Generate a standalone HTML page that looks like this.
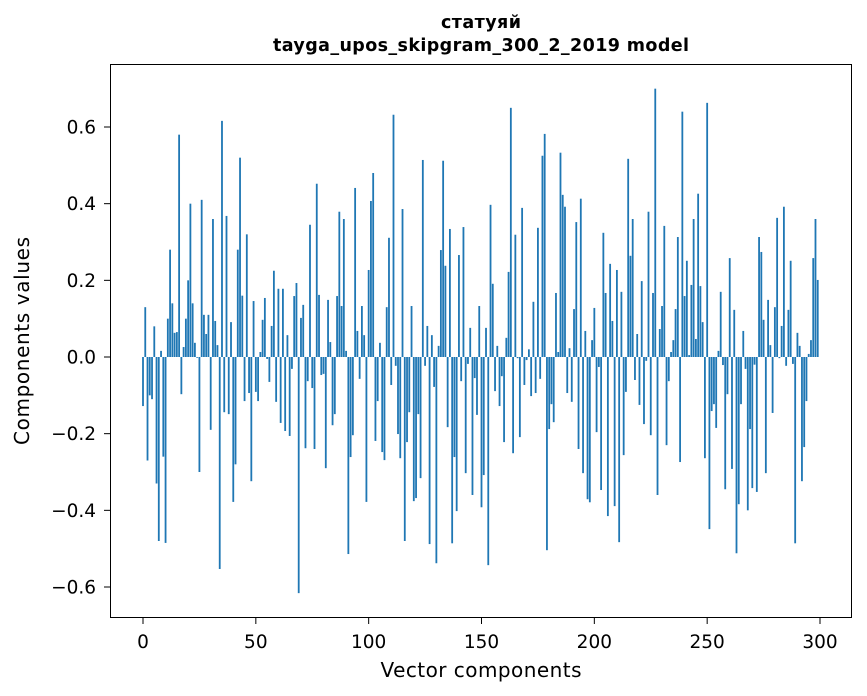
<!DOCTYPE html>
<html><head><meta charset="utf-8"><style>
body{margin:0;background:#fff;}
svg{display:block;font-family:"DejaVu Sans","Liberation Sans",sans-serif;}
</style></head><body>
<svg id="chart" width="867" height="696" viewBox="0 0 867 696" xmlns="http://www.w3.org/2000/svg">
<rect x="0" y="0" width="867" height="696" fill="#fff"/>
<text x="481" y="28" text-anchor="middle" font-size="17.5" font-weight="bold" textLength="80">статуяй</text>
<text x="481" y="51" text-anchor="middle" font-size="17.5" font-weight="bold" textLength="416">tayga_upos_skipgram_300_2_2019 model</text>
<g id="bars"></g>
<g id="axes"></g>
<rect x="110.5" y="64.5" width="741" height="553" fill="none" stroke="#000" stroke-width="1"/>
<text x="481" y="677" text-anchor="middle" font-size="20" textLength="201">Vector components</text>
<text transform="translate(29,341) rotate(-90)" text-anchor="middle" font-size="20" textLength="208">Components values</text>
</svg>
<script>
const values = [
-0.128,0.13,-0.27,-0.10,-0.11,0.08,-0.33,-0.48,0.016,-0.26,
-0.485,0.10,0.28,0.14,0.063,0.065,0.58,-0.097,0.026,0.10,
0.20,0.40,0.14,0.037,-0.002,-0.30,0.41,0.11,0.06,0.11,
-0.19,0.36,0.094,0.031,-0.553,0.616,-0.144,0.368,-0.149,0.091,
-0.378,-0.28,0.28,0.52,0.16,-0.115,0.32,-0.094,-0.324,0.146,
-0.091,-0.115,0.013,0.097,0.154,-0.005,-0.065,0.081,0.225,-0.117,
0.178,-0.172,0.178,-0.193,0.057,-0.206,-0.031,0.159,0.193,-0.616,
0.102,0.136,-0.238,-0.063,0.345,-0.081,-0.24,0.452,0.162,-0.047,
-0.044,-0.29,0.149,0.039,-0.178,-0.149,0.159,0.379,0.133,0.36,
0.016,-0.514,-0.261,-0.204,0.441,0.068,-0.057,0.133,0.057,-0.378,
0.227,0.407,0.48,-0.219,-0.115,0.037,-0.248,-0.269,0.13,0.311,
-0.073,0.632,-0.023,-0.201,-0.264,0.386,-0.48,-0.222,-0.144,0.133,
-0.376,-0.368,-0.149,-0.316,0.514,-0.023,0.081,-0.488,0.057,-0.078,
-0.538,0.029,0.279,0.512,0.238,-0.183,0.334,-0.486,-0.261,-0.402,
0.266,-0.063,0.339,-0.303,-0.018,0.076,-0.36,-0.055,-0.151,0.133,
-0.392,-0.308,0.076,-0.543,0.397,0.191,-0.089,0.029,-0.128,-0.05,
-0.222,0.05,0.222,0.65,-0.251,0.319,-0.003,-0.209,0.389,-0.073,
-0.008,0.02,-0.102,0.144,-0.094,0.337,-0.057,0.525,0.582,-0.504,
-0.188,-0.123,-0.17,0.167,0.013,0.533,0.423,0.392,-0.094,0.023,
-0.117,0.125,0.352,-0.24,0.413,-0.303,0.068,-0.371,-0.379,0.044,
0.128,-0.196,-0.026,-0.347,0.324,0.167,-0.415,0.243,0.094,-0.389,
0.227,-0.483,0.17,-0.256,-0.091,0.517,0.264,0.36,-0.06,0.06,
-0.125,0.198,-0.175,-0.01,0.379,-0.204,0.167,0.70,-0.36,0.073,
0.133,0.342,-0.23,-0.063,0.013,0.044,0.125,0.313,-0.274,0.64,
0.159,0.251,0.005,0.188,0.36,0.047,0.426,0.185,0.091,-0.264,
0.663,-0.449,-0.141,-0.123,-0.185,0.016,0.17,-0.021,-0.345,-0.097,
0.258,-0.292,0.123,-0.512,-0.384,-0.123,0.068,-0.031,-0.40,-0.188,
-0.342,-0.02,-0.352,0.313,0.274,0.097,-0.303,0.149,0.031,-0.146,
0.13,0.363,-0.003,0.081,0.392,-0.023,0.123,0.251,-0.018,-0.486,
0.063,0.029,-0.324,-0.235,-0.115,0.008,0.044,0.258,0.36,0.201
];
const xTicks = [0,50,100,150,200,250,300];
const yTicks = [-0.6,-0.4,-0.2,0.0,0.2,0.4,0.6];
const yTickLabels = ["\u22120.6","\u22120.4","\u22120.2","0.0","0.2","0.4","0.6"];

const NS = "http://www.w3.org/2000/svg";
function xScale(i){ return 143 + i * (677/300); }
function yScale(v){ return 357 - v * (230/0.6); }

const barsG = document.getElementById('bars');
const bw = 0.8 * (677/300);
values.forEach((v,i)=>{
  const r = document.createElementNS(NS,'rect');
  const y0 = yScale(0), y1 = yScale(v);
  r.setAttribute('x', xScale(i) - bw/2);
  r.setAttribute('y', Math.min(y0,y1));
  r.setAttribute('width', bw);
  r.setAttribute('height', Math.max(Math.abs(y1-y0),0.3));
  r.setAttribute('fill', '#1f77b4');
  
  
  barsG.appendChild(r);
});

const axesG = document.getElementById('axes');
xTicks.forEach(t=>{
  const x = xScale(t);
  const l = document.createElementNS(NS,'line');
  l.setAttribute('x1',x); l.setAttribute('x2',x);
  l.setAttribute('y1',618); l.setAttribute('y2',624);
  l.setAttribute('stroke','#000');
  
  
  axesG.appendChild(l);
  const tx = document.createElementNS(NS,'text');
  tx.setAttribute('x',x); tx.setAttribute('y',648);
  tx.setAttribute('text-anchor','middle'); tx.setAttribute('font-size','18.5');
  tx.textContent = String(t);
  
  
  axesG.appendChild(tx);
});
yTicks.forEach((t,k)=>{
  const y = yScale(t);
  const l = document.createElementNS(NS,'line');
  l.setAttribute('x1',104); l.setAttribute('x2',110);
  l.setAttribute('y1',y); l.setAttribute('y2',y);
  l.setAttribute('stroke','#000');
  
  
  axesG.appendChild(l);
  const tx = document.createElementNS(NS,'text');
  tx.setAttribute('x',96); tx.setAttribute('y',y+6.5);
  tx.setAttribute('text-anchor','end'); tx.setAttribute('font-size','18.5');
  tx.textContent = yTickLabels[k];
  
  
  axesG.appendChild(tx);
});
</script>
</body></html>
